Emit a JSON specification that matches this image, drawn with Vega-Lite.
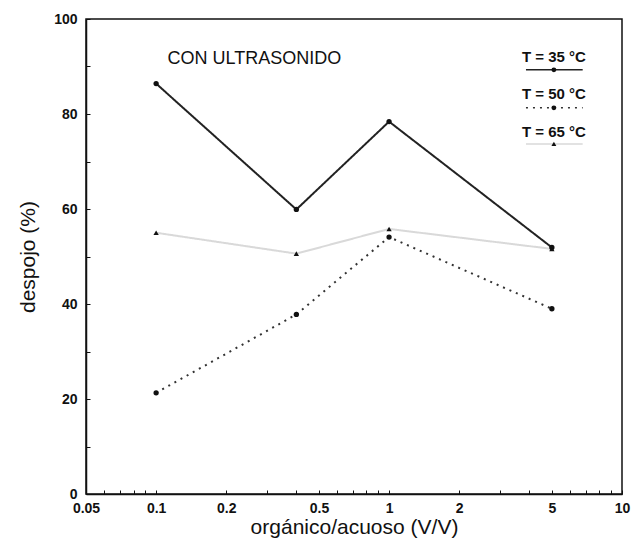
{
  "$schema": "https://vega.github.io/schema/vega-lite/v6.json",
  "width": 536,
  "height": 475,
  "autosize": {"type": "none"},
  "padding": {"left": 86, "top": 19, "right": 13, "bottom": 53},
  "background": "white",
  "config": {
    "font": "Liberation Sans",
    "view": {"stroke": "#111", "strokeWidth": 1.5}
  },
  "datasets": {
    "main": [
      {"ratio": 0.1, "despojo": 86.4, "serie": "T = 35 °C"},
      {"ratio": 0.4, "despojo": 59.9, "serie": "T = 35 °C"},
      {"ratio": 1.0, "despojo": 78.4, "serie": "T = 35 °C"},
      {"ratio": 5.0, "despojo": 51.9, "serie": "T = 35 °C"},
      {"ratio": 0.1, "despojo": 21.3, "serie": "T = 50 °C"},
      {"ratio": 0.4, "despojo": 37.8, "serie": "T = 50 °C"},
      {"ratio": 1.0, "despojo": 54.1, "serie": "T = 50 °C"},
      {"ratio": 5.0, "despojo": 39.0, "serie": "T = 50 °C"},
      {"ratio": 0.1, "despojo": 55.0, "serie": "T = 65 °C"},
      {"ratio": 0.4, "despojo": 50.6, "serie": "T = 65 °C"},
      {"ratio": 1.0, "despojo": 55.8, "serie": "T = 65 °C"},
      {"ratio": 5.0, "despojo": 51.6, "serie": "T = 65 °C"}
    ],
    "leg": [
      {"serie": "T = 35 °C", "x1": 3.87, "x2": 6.78, "xm": 5.1, "yl": 89.3, "yt": 91.9},
      {"serie": "T = 50 °C", "x1": 3.87, "x2": 6.78, "xm": 5.1, "yl": 81.3, "yt": 84.3},
      {"serie": "T = 65 °C", "x1": 3.87, "x2": 6.78, "xm": 5.1, "yl": 73.7, "yt": 76.3}
    ],
    "note": [
      {"ratio": 0.264, "despojo": 91.5, "texto": "CON ULTRASONIDO"}
    ]
  },
  "layer": [
    {
      "data": {"name": "main"},
      "mark": {"type": "line", "strokeWidth": 2},
      "encoding": {
        "x": {
          "field": "ratio", "type": "quantitative",
          "scale": {"type": "log", "domain": [0.05, 10], "nice": false},
          "axis": {
            "title": "orgánico/acuoso (V/V)",
            "values": [0.05, 0.06, 0.07, 0.08, 0.09, 0.1, 0.2, 0.3, 0.4, 0.5, 0.6, 0.7, 0.8, 0.9, 1, 2, 3, 4, 5, 6, 7, 8, 9, 10],
            "labelExpr": "indexof([0.05, 0.1, 0.2, 0.5, 1, 2, 5, 10], datum.value) >= 0 ? datum.label : ''",
            "format": "~g",
            "grid": false,
            "tickSize": -4,
            "labelPadding": 11,
            "labelFlush": false,
            "labelOverlap": false,
            "labelFontSize": 14,
            "labelFontWeight": "bold",
            "labelColor": "#111",
            "titleFontSize": 21,
            "titleFontWeight": "normal",
            "titleColor": "#111",
            "titlePadding": 1,
            "domainColor": "#111",
            "domainWidth": 1.5,
            "tickColor": "#111"
          }
        },
        "y": {
          "field": "despojo", "type": "quantitative",
          "scale": {"domain": [0, 100], "nice": false},
          "axis": {
            "title": "despojo (%)",
            "values": [0, 10, 20, 30, 40, 50, 60, 70, 80, 90, 100],
            "labelExpr": "datum.value % 20 == 0 ? datum.label : ''",
            "grid": false,
            "tickSize": -4,
            "labelPadding": 13,
            "labelOverlap": false,
            "labelFontSize": 14,
            "labelFontWeight": "bold",
            "labelColor": "#111",
            "titleFontSize": 21,
            "titleFontWeight": "normal",
            "titleColor": "#111",
            "titlePadding": 15,
            "domainColor": "#111",
            "domainWidth": 1.5,
            "tickColor": "#111"
          }
        },
        "color": {
          "field": "serie", "type": "nominal",
          "scale": {"domain": ["T = 35 °C", "T = 50 °C", "T = 65 °C"], "range": ["#222222", "#333333", "#d9d9d9"]},
          "legend": null
        },
        "strokeDash": {
          "field": "serie", "type": "nominal",
          "scale": {"domain": ["T = 35 °C", "T = 50 °C", "T = 65 °C"], "range": [[1, 0], [2, 5], [1, 0]]},
          "legend": null
        }
      }
    },
    {
      "data": {"name": "main"},
      "mark": {"type": "point", "filled": true, "opacity": 1, "color": "#111"},
      "encoding": {
        "x": {"field": "ratio", "type": "quantitative"},
        "y": {"field": "despojo", "type": "quantitative"},
        "shape": {
          "field": "serie", "type": "nominal",
          "scale": {"domain": ["T = 35 °C", "T = 50 °C", "T = 65 °C"], "range": ["circle", "circle", "triangle-up"]},
          "legend": null
        },
        "size": {"value": 28}
      }
    },
    {
      "data": {"name": "leg"},
      "mark": {"type": "rule", "strokeWidth": 1.5},
      "encoding": {
        "x": {"field": "x1", "type": "quantitative"},
        "x2": {"field": "x2"},
        "y": {"field": "yl", "type": "quantitative"},
        "color": {"field": "serie", "type": "nominal", "legend": null},
        "strokeDash": {"field": "serie", "type": "nominal", "legend": null}
      }
    },
    {
      "data": {"name": "leg"},
      "mark": {"type": "point", "filled": true, "opacity": 1, "color": "#111"},
      "encoding": {
        "x": {"field": "xm", "type": "quantitative"},
        "y": {"field": "yl", "type": "quantitative"},
        "shape": {"field": "serie", "type": "nominal", "legend": null},
        "size": {"value": 24}
      }
    },
    {
      "data": {"name": "leg"},
      "mark": {"type": "text", "fontSize": 15, "fontWeight": "bold", "color": "#111", "baseline": "middle", "align": "center"},
      "encoding": {
        "x": {"field": "xm", "type": "quantitative"},
        "y": {"field": "yt", "type": "quantitative"},
        "text": {"field": "serie", "type": "nominal"}
      }
    },
    {
      "data": {"name": "note"},
      "mark": {"type": "text", "fontSize": 18, "color": "#111", "baseline": "middle", "align": "center"},
      "encoding": {
        "x": {"field": "ratio", "type": "quantitative"},
        "y": {"field": "despojo", "type": "quantitative"},
        "text": {"field": "texto", "type": "nominal"}
      }
    }
  ]
}
